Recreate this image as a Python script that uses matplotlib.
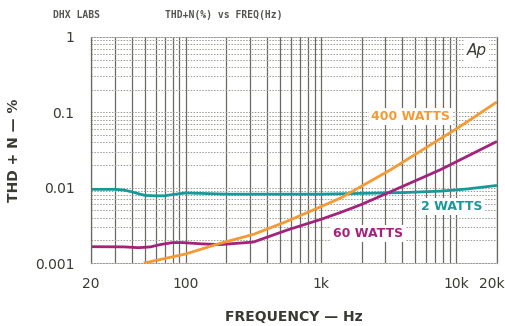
import numpy as np
import matplotlib
matplotlib.use("Agg")
import matplotlib.pyplot as plt
from matplotlib.ticker import FixedLocator, LogLocator, NullFormatter
from matplotlib.transforms import ScaledTranslation

# THD+N versus frequency, three output levels
freq_2w = [20, 30, 35, 40, 45, 50, 60, 70, 80, 100, 130, 200, 400, 1000,
           2000, 4000, 7700, 12000, 20000]
thd_2w = [0.0095, 0.0095, 0.0093, 0.0088, 0.0083, 0.0079, 0.0078, 0.0078,
          0.0081, 0.0085, 0.0084, 0.0082, 0.0082, 0.0082, 0.0084, 0.0086,
          0.0090, 0.0096, 0.0107]

freq_60w = [20, 35, 45, 55, 65, 80, 95, 130, 180, 317, 566, 1000, 1400,
            2000, 3300, 7700, 20000]
thd_60w = [0.00165, 0.00164, 0.0016, 0.00164, 0.00176, 0.00187, 0.00187,
           0.0018, 0.00176, 0.0019, 0.00275, 0.0038, 0.0047, 0.006, 0.0089,
           0.0174, 0.041]

freq_400w = [49, 100, 180, 317, 566, 1000, 1400, 3300, 7700, 10300, 20000]
thd_400w = [0.001, 0.00132, 0.00183, 0.0024, 0.0036, 0.0056, 0.0073,
            0.0174, 0.045, 0.062, 0.137]

x_ticks = [20, 100, 1000, 10000, 20000]
x_tick_labels = ["20", "100", "1k", "10k", "20k"]
y_ticks = [0.001, 0.01, 0.1, 1]
y_tick_labels = ["0.001", "0.01", "0.1", "1"]

c_2w = "#17999a"
c_60w = "#a3237c"
c_400w = "#f59a33"
ink = "#3a3a32"

fig = plt.figure(figsize=(5.06, 3.26), dpi=100)
ax = fig.add_axes([0.18, 0.193, 0.802, 0.694])
ax.set_xscale("log")
ax.set_yscale("log")
ax.set_xlim(20, 20000)
ax.set_ylim(0.001, 1)

# grid: solid vertical decade/minor lines, dotted horizontal lines
ax.xaxis.set_minor_locator(LogLocator(base=10, subs=np.arange(2, 10)))
ax.yaxis.set_minor_locator(LogLocator(base=10, subs=np.arange(2, 10)))
ax.xaxis.set_minor_formatter(NullFormatter())
ax.yaxis.set_minor_formatter(NullFormatter())
ax.grid(True, which="both", axis="x", color="#6a6a62", lw=0.9)
ax.grid(True, which="both", axis="y", color="#9a9a92", lw=0.7, ls=(0, (1.5, 1.5)))
ax.tick_params(which="both", length=0)
ax.set_axisbelow(True)
for s in ["left", "right"]:
    ax.spines[s].set_color("#6a6a62")
    ax.spines[s].set_linewidth(0.9)
for s in ["top", "bottom"]:
    ax.spines[s].set_color("#9a9a92")
    ax.spines[s].set_linewidth(0.7)
    ax.spines[s].set_linestyle((0, (1.5, 1.5)))

ax.xaxis.set_major_locator(FixedLocator(x_ticks))
ax.set_xticklabels(x_tick_labels)
ax.yaxis.set_major_locator(FixedLocator(y_ticks))
ax.set_yticklabels(y_tick_labels)
ax.tick_params(axis="x", pad=10, labelsize=10, labelcolor=ink)
ax.tick_params(axis="y", pad=12, labelsize=10, labelcolor=ink)
# keep the last frequency label inside the figure
last = ax.get_xticklabels()[-1]
last.set_transform(last.get_transform() + ScaledTranslation(-5 / 100, 0, fig.dpi_scale_trans))

ax.plot(freq_2w, thd_2w, color=c_2w, lw=2.0, solid_capstyle="butt")
ax.plot(freq_60w, thd_60w, color=c_60w, lw=2.0, solid_capstyle="butt")
ax.plot(freq_400w, thd_400w, color=c_400w, lw=2.0, solid_capstyle="butt")

box = dict(facecolor="white", edgecolor="none", pad=1.5)
ax.text(4600, 0.088, "400 WATTS", color=c_400w, fontsize=9, fontweight="bold",
        ha="center", va="center", bbox=box)
ax.text(9300, 0.0056, "2 WATTS", color=c_2w, fontsize=9, fontweight="bold",
        ha="center", va="center", bbox=box)
ax.text(2250, 0.00245, "60 WATTS", color=c_60w, fontsize=9, fontweight="bold",
        ha="center", va="center", bbox=box)
ax.text(0.975, 0.94, "Ap", transform=ax.transAxes, fontsize=11, style="italic",
        color=ink, ha="right", va="center", bbox=dict(facecolor="white", edgecolor="none", pad=2))

ax.set_xlabel("FREQUENCY — Hz", fontsize=10, fontweight="bold", color=ink, labelpad=14)
ax.set_ylabel("THD + N — %", fontsize=10, fontweight="bold", color=ink, labelpad=10)

fig.text(0.105, 0.953, "DHX LABS", fontsize=7, fontweight="bold",
         family="DejaVu Sans Mono", color="#555550", va="center")
fig.text(0.327, 0.953, "THD+N(%) vs FREQ(Hz)", fontsize=7, fontweight="bold",
         family="DejaVu Sans Mono", color="#555550", va="center")

fig.savefig("out.png", dpi=100)
